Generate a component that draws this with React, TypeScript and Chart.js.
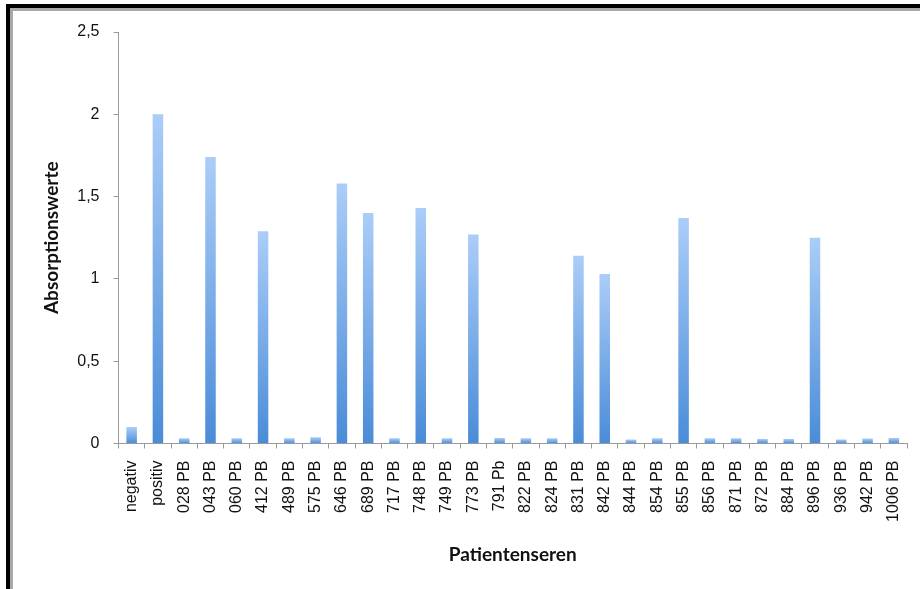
import React, { useEffect, useRef } from "react";
import { Chart, registerables } from "chart.js";

Chart.register(...registerables);

const categories = [
  "negativ", "positiv", "028 PB", "043 PB", "060 PB", "412 PB", "489 PB", "575 PB",
  "646 PB", "689 PB", "717 PB", "748 PB", "749 PB", "773 PB", "791 Pb", "822 PB",
  "824 PB", "831 PB", "842 PB", "844 PB", "854 PB", "855 PB", "856 PB", "871 PB",
  "872 PB", "884 PB", "896 PB", "936 PB", "942 PB", "1006 PB",
];

const absorption = [
  0.1, 2.0, 0.032, 1.74, 0.032, 1.29, 0.032, 0.038,
  1.58, 1.4, 0.032, 1.43, 0.032, 1.27, 0.034, 0.032,
  0.032, 1.14, 1.03, 0.024, 0.032, 1.37, 0.032, 0.032,
  0.028, 0.028, 1.25, 0.024, 0.03, 0.034,
];

const yTicks = [0, 0.5, 1, 1.5, 2, 2.5];

const W = 920;
const H = 589;

export default function App() {
  const ref = useRef<HTMLCanvasElement | null>(null);

  useEffect(() => {
    const canvas = ref.current;
    if (!canvas) return;
    const chart = new Chart(canvas, {
      type: "bar",
      data: {
        labels: categories,
        datasets: [
          {
            data: absorption,
            categoryPercentage: 1,
            barPercentage: 0.4,
            borderWidth: 0,
            backgroundColor: (ctx: any) => {
              const ch = ctx.chart;
              const y = ch.scales && ch.scales.y;
              if (!y || ctx.raw === undefined || ctx.type !== "data") return "#7fb0ec";
              const top = y.getPixelForValue(ctx.raw);
              const bottom = y.getPixelForValue(0);
              if (!isFinite(top) || !isFinite(bottom) || bottom - top < 0.5) return "#9cc3f3";
              const g = ch.ctx.createLinearGradient(0, top, 0, bottom);
              g.addColorStop(0, "#abcdf8");
              g.addColorStop(1, "#4a8cd8");
              return g;
            },
          },
        ],
      },
      options: {
        responsive: false,
        animation: false,
        devicePixelRatio: 1,
        layout: { padding: { top: 32, right: 13, left: 0, bottom: 0 } },
        plugins: { legend: { display: false }, tooltip: { enabled: false }, title: { display: false } },
        scales: {
          x: {
            grid: {
              drawOnChartArea: false,
              drawTicks: true,
              tickLength: 5,
              color: "#9a9a9a",
              offset: true,
            },
            border: { display: true, color: "#9a9a9a", width: 1 },
            ticks: {
              autoSkip: false,
              minRotation: 90,
              maxRotation: 90,
              padding: 12,
              color: "#111",
              font: { family: "'Liberation Sans', Arial, sans-serif", size: 16 },
            },
            title: {
              display: true,
              text: "Patientenseren",
              color: "#111",
              font: { family: "Lato, 'Open Sans', sans-serif", size: 19, weight: "bold" },
              padding: { top: 0, bottom: 23 },
            },
            afterFit: (s: any) => {
              s.height = H - 443.5;
              s.paddingLeft = 0;
              s.paddingRight = 0;
            },
          },
          y: {
            min: 0,
            max: 2.5,
            afterBuildTicks: (s: any) => {
              s.ticks = yTicks.map((v) => ({ value: v }));
            },
            grid: {
              drawOnChartArea: false,
              drawTicks: true,
              tickLength: 5,
              color: "#9a9a9a",
            },
            border: { display: true, color: "#9a9a9a", width: 1 },
            ticks: {
              padding: 14,
              color: "#111",
              font: { family: "'Liberation Sans', Arial, sans-serif", size: 16 },
              callback: (v: any) => String(v).replace(".", ","),
            },
            title: {
              display: true,
              text: "Absorptionswerte",
              color: "#111",
              font: { family: "Lato, 'Open Sans', sans-serif", size: 19, weight: "bold" },
              padding: { top: 40, bottom: 0 },
            },
            afterFit: (s: any) => {
              s.width = 118.5;
            },
          },
        },
      },
    });
    return () => chart.destroy();
  }, []);

  return (
    <div style={{ position: "fixed", left: 0, top: 0, width: W, height: H, background: "#fff", overflow: "hidden" }}>
      <canvas ref={ref} width={W} height={H} style={{ position: "absolute", left: 0, top: 0, width: W, height: H }} />
      <div
        style={{
          position: "absolute",
          left: 6,
          top: 4,
          width: W + 20,
          height: H + 20,
          borderLeft: "4px solid #000",
          borderTop: "4px solid #000",
          boxSizing: "border-box",
          pointerEvents: "none",
        }}
      >
        <div
          style={{
            position: "absolute",
            left: 0,
            top: 0,
            right: 0,
            bottom: 0,
            borderLeft: "3px solid #a8a8a8",
            borderTop: "3px solid #a8a8a8",
          }}
        />
      </div>
    </div>
  );
}
